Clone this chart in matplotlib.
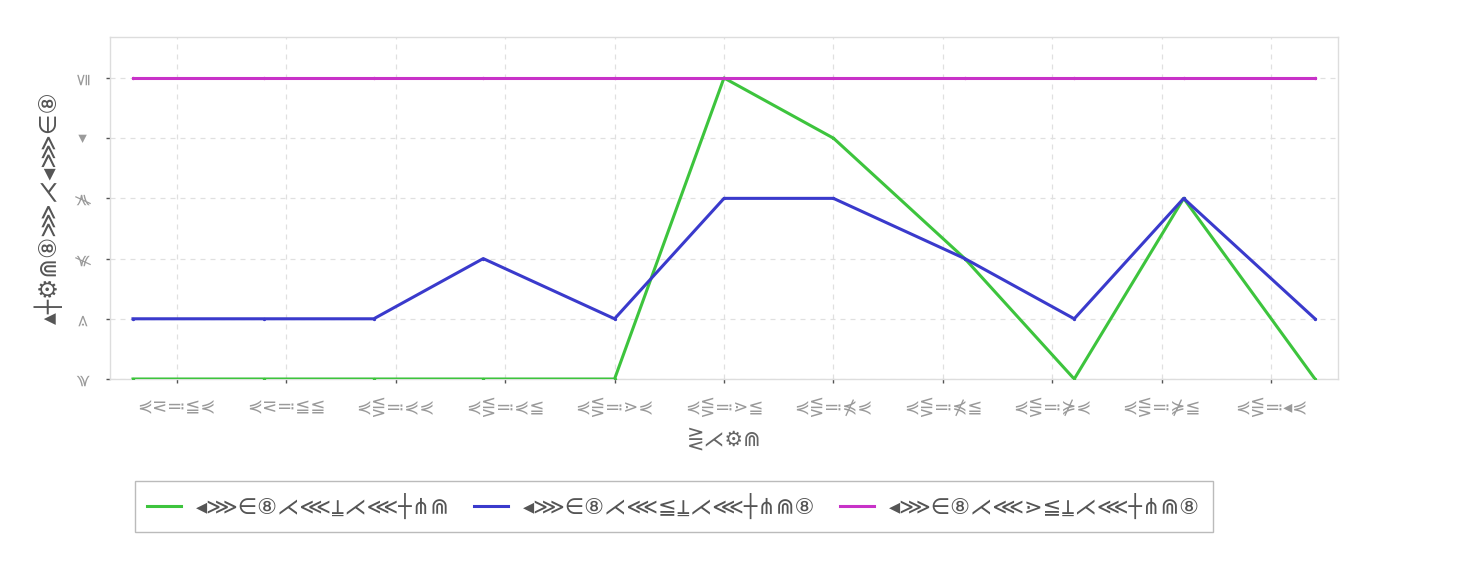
import matplotlib
matplotlib.use("Agg")
import matplotlib.pyplot as plt
import pandas as pd

plt.rcParams['font.family'] = ['DejaVu Sans', 'Noto Sans CJK SC', 'DejaVu Sans Mono']

# ---- data ----
times = ["08:48", "08:54", "08:59", "09:04", "09:10", "09:15",
         "09:20", "09:26", "09:31", "09:36", "09:42"]
series_green = [0, 0, 0, 0, 0, 5, 4, 2, 0, 3, 0]
series_blue = [1, 1, 1, 2, 1, 3, 3, 2, 1, 3, 1]
series_magenta = [5, 5, 5, 5, 5, 5, 5, 5, 5, 5, 5]

series_labels = ["◂⋙∈⑧⋌⋘⍊⋌⋘┼⋔⋒",
                 "◂⋙∈⑧⋌⋘≦⍊⋌⋘┼⋔⋒⑧",
                 "◂⋙∈⑧⋌⋘⋗≦⍊⋌⋘┼⋔⋒⑧"]
series_colors = ["#3dc43d", "#3a3acc", "#c832c8"]

tick_times = ["08:50", "08:55", "09:00", "09:05", "09:10", "09:15",
              "09:20", "09:25", "09:30", "09:35", "09:40"]
tick_labels = ["⋞⋜≕≦⋞", "⋞⋜≕≦≦", "⋞⋚≕⋞⋞", "⋞⋚≕⋞≦", "⋞⋚≕⋗⋞", "⋞⋚≕⋗≦",
               "⋞⋚≕⋠⋞", "⋞⋚≕⋠≦", "⋞⋚≕⋡⋞", "⋞⋚≕⋡≦", "⋞⋚≕◂⋞"]
y_ticks = [0, 1, 2, 3, 4, 5]
y_tick_labels = ["⋞", "⋗", "⋠", "⋡", "◂", "≦"]

x_label = "⋛⋌⚙⋒"
y_label = "▴┼⚙⋒⑧⋙⋌◂⋙∈⑧"

# ---- plot ----
day = "2024-01-01 "
x = pd.to_datetime([day + t for t in times])
xt = pd.to_datetime([day + t for t in tick_times])

fig = plt.figure(figsize=(14.68, 5.75), dpi=100)
ax = fig.add_axes([110 / 1468, 1 - 379 / 575, (1338 - 110) / 1468, (379 - 37) / 575])

for vals, lab, col in zip([series_green, series_blue, series_magenta], series_labels, series_colors):
    ax.plot(x, vals, color=col, lw=2.2, marker='o', markersize=1.4, label=lab, zorder=3)

pad = pd.Timedelta(seconds=63)
ax.set_xlim(x.min() - pad, x.max() + pad)
ax.set_ylim(0, 5.68)

ax.set_xticks(xt)
ax.set_xticklabels(tick_labels, fontsize=13, color="#9a9a9a")
ax.set_yticks(y_ticks)
ax.set_yticklabels(y_tick_labels, fontsize=12, color="#9a9a9a", rotation=90, va='center')

ax.tick_params(axis='both', length=3, width=1, color="#555555")
ax.tick_params(axis='x', pad=10)
ax.tick_params(axis='y', pad=10)
ax.grid(True, linestyle=(0, (4, 4)), color="#e0e0e0", lw=0.9)
ax.set_axisbelow(True)
for s in ax.spines.values():
    s.set_color("#dddddd")
    s.set_linewidth(1.0)

ax.set_xlabel(x_label, fontsize=15, color="#666666", labelpad=8)
ax.set_ylabel(y_label, fontsize=17, color="#555555", labelpad=8)

leg = fig.legend(loc='upper left', bbox_to_anchor=(135 / 1468, 1 - 481 / 575), ncol=3,
                 fontsize=16, frameon=True, fancybox=False, handlelength=1.5,
                 borderpad=0.55, borderaxespad=0, columnspacing=1.1, handletextpad=0.7)
leg.get_frame().set_edgecolor("#aaaaaa")
leg.get_frame().set_linewidth(1.0)
for h in leg.legend_handles:
    h.set_marker("None")
for t in leg.get_texts():
    t.set_color("#555555")

fig.savefig("out.png", dpi=100)
